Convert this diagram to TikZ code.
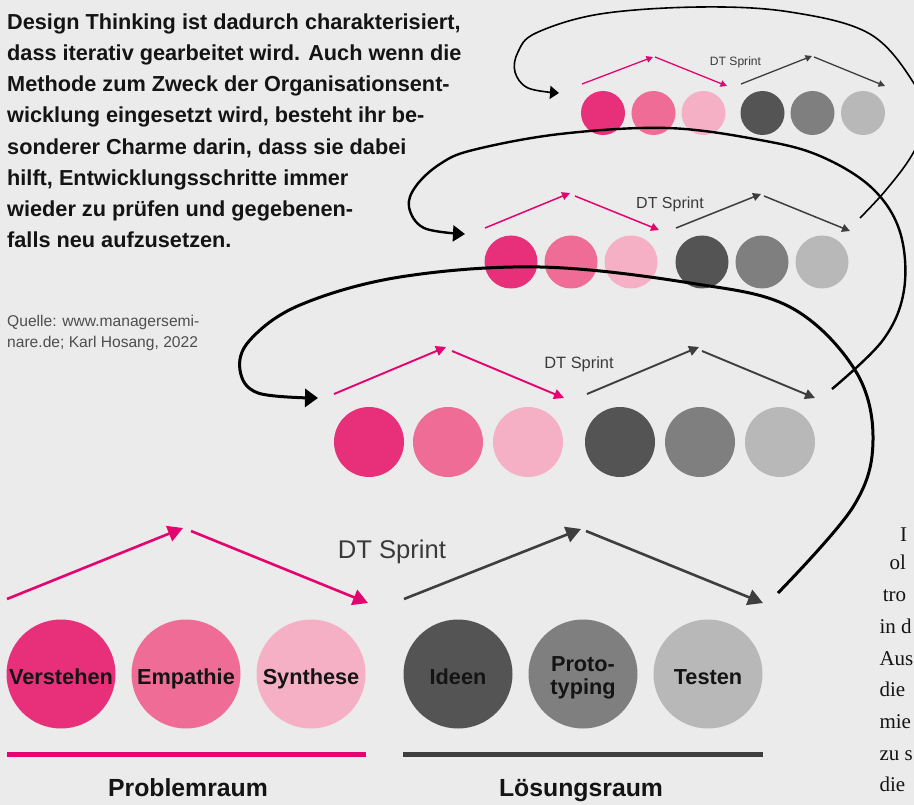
\documentclass[tikz,border=0pt]{standalone}
\usepackage{fontspec}
\setmainfont{Liberation Sans}
\newfontfamily\serifface{Liberation Serif}
\usetikzlibrary{arrows.meta}
\definecolor{bg}{HTML}{EBEBEB}
\definecolor{pA}{HTML}{E8307A}
\definecolor{pB}{HTML}{EE6C96}
\definecolor{pC}{HTML}{F5B0C6}
\definecolor{gA}{HTML}{545454}
\definecolor{gB}{HTML}{7F7F7F}
\definecolor{gC}{HTML}{B8B8B8}
\definecolor{pinkline}{HTML}{E5046F}
\definecolor{grayline}{HTML}{3E3E3E}
\definecolor{txt}{HTML}{141414}
\definecolor{soft}{HTML}{3A3A3A}
\begin{document}
\begin{tikzpicture}[x=1pt,y=-1pt,
  bub/.style={circle, inner sep=0pt, outer sep=0pt, draw=none},
  bodytext/.style={anchor=base west, inner sep=0pt, text=txt, font=\fontsize{21.7}{26}\selectfont\bfseries},
  steplab/.style={anchor=base, inner sep=0pt, text=txt, font=\fontsize{21.7}{26}\selectfont\bfseries},
  spacelab/.style={anchor=base, inner sep=0pt, text=txt, font=\fontsize{24.8}{28}\selectfont\bfseries},
  sprintlab/.style={anchor=base, inner sep=0pt, text=soft},
  quelle/.style={anchor=base west, inner sep=0pt, text=soft!90, font=\fontsize{15.6}{20}\selectfont},
  sidetext/.style={anchor=base west, inner sep=0pt, text=txt, font=\serifface\fontsize{21}{24}\selectfont},
  arrD/.style={line width=2.6pt, -{Triangle[length=15pt,width=16pt]}},
  arrC/.style={line width=1.9pt, -{Triangle[length=10pt,width=10pt]}},
  arrB/.style={line width=1.5pt, -{Triangle[length=8pt,width=8pt]}},
  arrA/.style={line width=1.3pt, -{Triangle[length=6.5pt,width=6.5pt]}},
  loopA/.style={draw=black, line width=3pt, -{Triangle[length=13pt,width=18pt]}},
  loopB/.style={draw=black, line width=2.4pt, -{Triangle[length=12pt,width=16pt]}},
  loopC/.style={draw=black, line width=1.6pt, -{Triangle[length=9pt,width=13pt]}}
]
\useasboundingbox (0,0) rectangle (914,805);
\fill[bg] (0,0) rectangle (914,805);
\clip (0,0) rectangle (914,805);

% ---------- top-left text ----------
\node[bodytext] (t1) at (7,29.3) {Design Thinking ist dadurch charakterisiert,};
\node[bodytext] (t2) at (7,60.5) {dass iterativ gearbeitet wird. Auch wenn die};
\node[bodytext] (t3) at (7,91.7) {Methode zum Zweck der Organisationsent-};
\node[bodytext] (t4) at (7,122.9) {wicklung eingesetzt wird, besteht ihr be-};
\node[bodytext] (t5) at (7,154.1) {sonderer Charme darin, dass sie dabei};
\node[bodytext] (t6) at (7,185.3) {hilft, Entwicklungsschritte immer};
\node[bodytext] (t7) at (7,216.5) {wieder zu prüfen und gegebenen-};
\node[bodytext] (t8) at (7,247.7) {falls neu aufzusetzen.};

\node[quelle] (q1) at (7,326.7) {Quelle: www.managersemi-};
\node[quelle] (q2) at (7,347.7) {nare.de; Karl Hosang, 2022};

% ---------- right text fragments ----------
\node[sidetext] (s1) at (900,541.7) {I};
\node[sidetext] (s2) at (889.3,569) {ol};
\node[sidetext] (s3) at (882.7,601.5) {tro};
\node[sidetext] (s4) at (879.3,633) {in d};
\node[sidetext] (s5) at (879.3,665) {Aus};
\node[sidetext] (s6) at (879.3,696.7) {die};
\node[sidetext] (s7) at (879.3,728.3) {mie};
\node[sidetext] (s8) at (879.3,760) {zu s};
\node[sidetext] (s9) at (879.3,791.7) {die};

% ---------- row A (top, smallest) ----------
\node[bub, fill=pA, minimum size=44pt] (a1) at (603,113) {};
\node[bub, fill=pB, minimum size=44pt] (a2) at (653.5,113) {};
\node[bub, fill=pC, minimum size=44pt] (a3) at (703.5,113) {};
\node[bub, fill=gA, minimum size=44pt] (a4) at (762.5,113) {};
\node[bub, fill=gB, minimum size=44pt] (a5) at (812.5,113) {};
\node[bub, fill=gC, minimum size=44pt] (a6) at (863,113) {};
\node[sprintlab, font=\fontsize{12.1}{14}\selectfont] (sa) at (735.5,66) {DT Sprint};
\path (582,84) coordinate (a1s) (653,57) coordinate (a1e)
      (655,57) coordinate (a2s) (727,86) coordinate (a2e)
      (741,84) coordinate (a3s) (812,56) coordinate (a3e)
      (814,57) coordinate (a4s) (885,86) coordinate (a4e);
\draw[arrA, draw=pinkline] (a1s) -- (a1e);
\draw[arrA, draw=pinkline] (a2s) -- (a2e);
\draw[arrA, draw=grayline] (a3s) -- (a3e);
\draw[arrA, draw=grayline] (a4s) -- (a4e);

% ---------- row B ----------
\node[bub, fill=pA, minimum size=53pt] (b1) at (511,262) {};
\node[bub, fill=pB, minimum size=53pt] (b2) at (571,262) {};
\node[bub, fill=pC, minimum size=53pt] (b3) at (631,262) {};
\node[bub, fill=gA, minimum size=53pt] (b4) at (702,262) {};
\node[bub, fill=gB, minimum size=53pt] (b5) at (762,262) {};
\node[bub, fill=gC, minimum size=53pt] (b6) at (822,262) {};
\node[sprintlab, font=\fontsize{16}{19}\selectfont] (sb) at (670,208.3) {DT Sprint};
\path (485,228) coordinate (b1s) (570,193) coordinate (b1e)
      (575,196) coordinate (b2s) (659,230) coordinate (b2e)
      (676,228) coordinate (b3s) (761,194) coordinate (b3e)
      (764,196) coordinate (b4s) (850,231) coordinate (b4e);
\draw[arrB, draw=pinkline] (b1s) -- (b1e);
\draw[arrB, draw=pinkline] (b2s) -- (b2e);
\draw[arrB, draw=grayline] (b3s) -- (b3e);
\draw[arrB, draw=grayline] (b4s) -- (b4e);

% ---------- row C ----------
\node[bub, fill=pA, minimum size=70pt] (c1) at (369,442) {};
\node[bub, fill=pB, minimum size=70pt] (c2) at (448,442) {};
\node[bub, fill=pC, minimum size=70pt] (c3) at (528,442) {};
\node[bub, fill=gA, minimum size=70pt] (c4) at (620,442) {};
\node[bub, fill=gB, minimum size=70pt] (c5) at (700,442) {};
\node[bub, fill=gC, minimum size=70pt] (c6) at (780,442) {};
\node[sprintlab, font=\fontsize{16.4}{19}\selectfont] (sc) at (579,368.3) {DT Sprint};
\path (334,394) coordinate (c1s) (446,347) coordinate (c1e)
      (452,351) coordinate (c2s) (564,398) coordinate (c2e)
      (587,394) coordinate (c3s) (699,347) coordinate (c3e)
      (702,351) coordinate (c4s) (815,398) coordinate (c4e);
\draw[arrC, draw=pinkline] (c1s) -- (c1e);
\draw[arrC, draw=pinkline] (c2s) -- (c2e);
\draw[arrC, draw=grayline] (c3s) -- (c3e);
\draw[arrC, draw=grayline] (c4s) -- (c4e);

% ---------- row D (bottom, largest) ----------
\node[bub, fill=pA, minimum size=109pt] (d1) at (61,674) {};
\node[bub, fill=pB, minimum size=109pt] (d2) at (186,674) {};
\node[bub, fill=pC, minimum size=109pt] (d3) at (311,674) {};
\node[bub, fill=gA, minimum size=109pt] (d4) at (458,674) {};
\node[bub, fill=gB, minimum size=109pt] (d5) at (583,674) {};
\node[bub, fill=gC, minimum size=109pt] (d6) at (708,674) {};
\node[steplab] (l1) at (61,684) {Verstehen};
\node[steplab] (l2) at (186,684) {Empathie};
\node[steplab] (l3) at (311,684) {Synthese};
\node[steplab] (l4) at (458,684) {Ideen};
\node[steplab] (l5a) at (583,671) {Proto-};
\node[steplab] (l5b) at (583,694) {typing};
\node[steplab] (l6) at (708,684) {Testen};
\node[sprintlab, font=\fontsize{25.6}{30}\selectfont] (sd) at (392,558.3) {DT Sprint};
\path (7,599) coordinate (d1s) (183,528) coordinate (d1e)
      (191,531) coordinate (d2s) (368,603) coordinate (d2e)
      (404,599) coordinate (d3s) (581,529) coordinate (d3e)
      (586,531) coordinate (d4s) (763,603) coordinate (d4e);
\draw[arrD, draw=pinkline] (d1s) -- (d1e);
\draw[arrD, draw=pinkline] (d2s) -- (d2e);
\draw[arrD, draw=grayline] (d3s) -- (d3e);
\draw[arrD, draw=grayline] (d4s) -- (d4e);

\fill[pinkline] (7,751.5) rectangle (366,756.5);
\fill[grayline] (403,751.5) rectangle (763,756.5);
\node[spacelab] (pr) at (188,796) {Problemraum};
\node[spacelab] (lr) at (581,796) {Lösungsraum};

% ---------- iteration loops ----------
\path (778,593) coordinate (L1s) (318,398) coordinate (L1e)
      (832,389) coordinate (L2s) (465,234) coordinate (L2e)
      (860,218) coordinate (L3s) (559,93) coordinate (L3e);
\draw[loopA] plot[smooth, tension=0.6] coordinates {(L1s) (853,507) (873,440) (855,370) (790,307) (690,283) (540,267) (400,277) (300,305) (250,340) (240,370) (258,393) (L1e)};
\draw[loopB] plot[smooth, tension=0.6] coordinates {(L2s) (883,340) (904,290) (900,232) (872,188) (820,156) (760,140) (667,128) (560,134) (473,150) (440,164) (416,186) (409,207) (424,228) (L2e)};
\draw[loopC] plot[smooth, tension=0.6] coordinates {(L3s) (886,190) (912,155) (926,120) (915,85) (870,34) (790,12) (700,7) (600,14) (536,33) (518,52) (515,72) (528,88) (L3e)};
\end{tikzpicture}
\end{document}
